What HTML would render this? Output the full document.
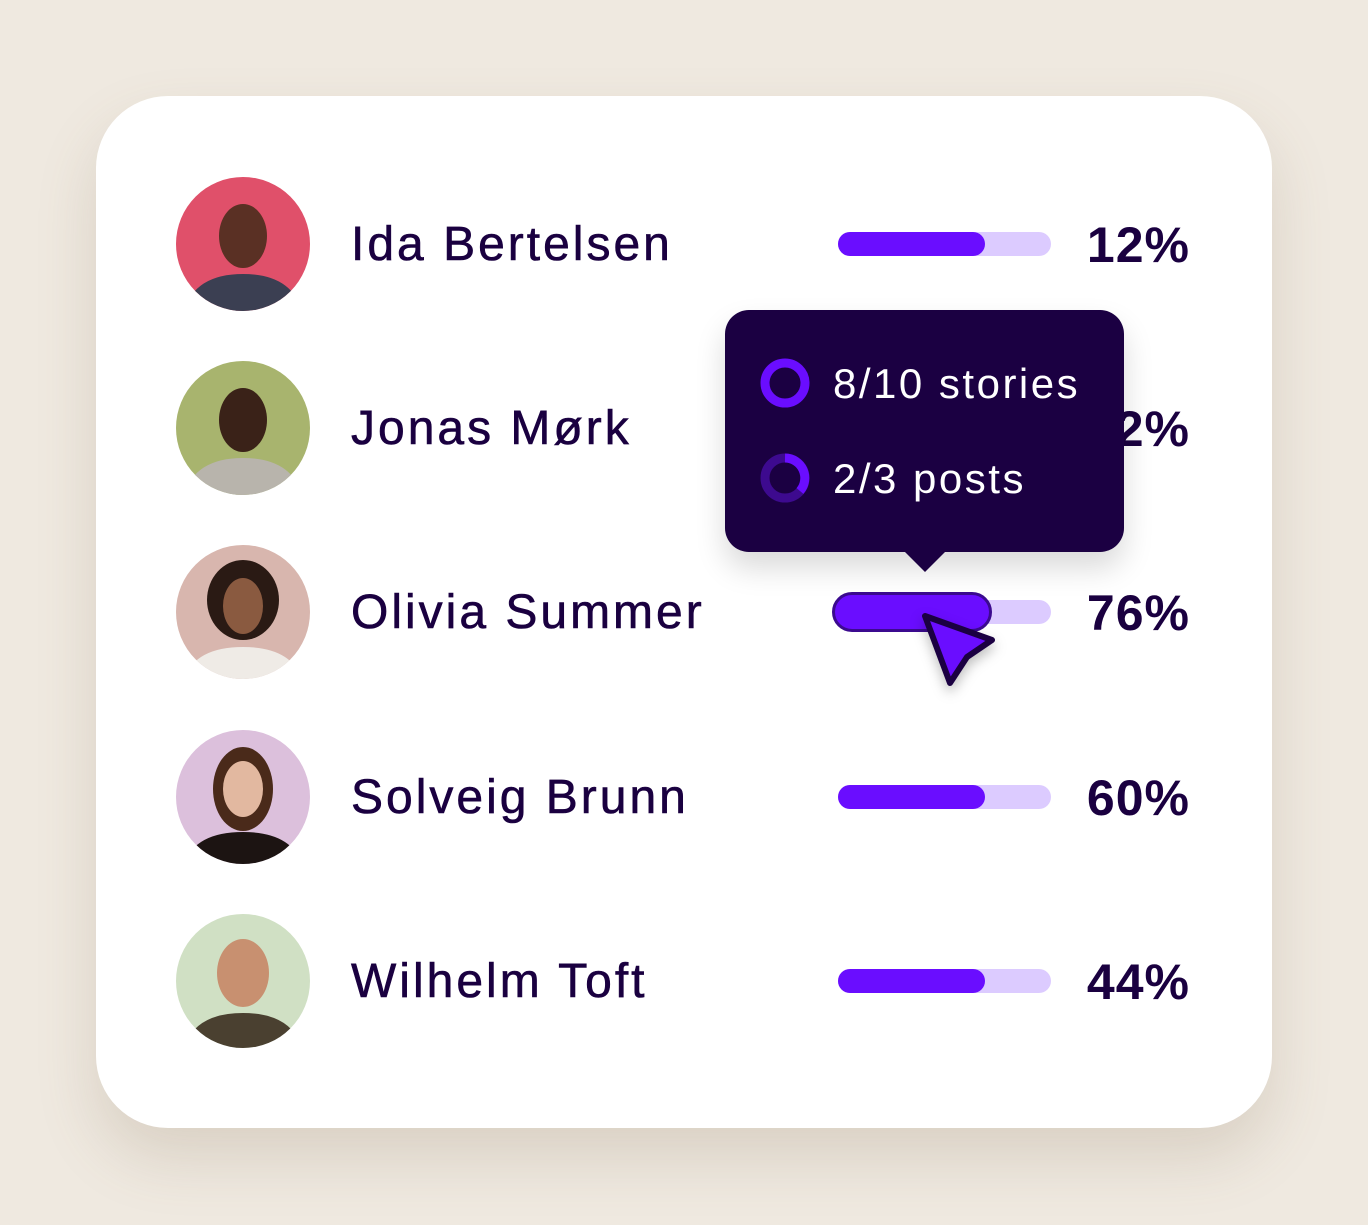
<!DOCTYPE html>
<html><head><meta charset="utf-8"><style>
body{margin:0;width:1368px;height:1225px;background:#efe9e0;position:relative;overflow:hidden;font-family:"Liberation Sans",sans-serif;}
.card{position:absolute;left:96px;top:96px;width:1176px;height:1032px;background:#fff;border-radius:72px;box-shadow:0 30px 60px rgba(120,100,70,0.18);}
.name{position:absolute;left:351px;font-size:48px;color:#1a0040;line-height:1;letter-spacing:3px;-webkit-text-stroke:0.6px #1a0040;}
.pct{position:absolute;right:178px;font-size:50px;font-weight:bold;color:#1a0040;line-height:1;letter-spacing:1px;}
.track{position:absolute;left:838px;width:213px;height:24px;border-radius:12px;background:#dccbff;}
.fill{position:absolute;left:838px;width:147px;height:24px;border-radius:12px;background:#6a0dff;}
</style></head><body>
<div class="card"></div>
<svg width="1368" height="1225" style="position:absolute;left:0;top:0">
<defs><clipPath id="c"><circle r="67" cx="0" cy="0"/></clipPath></defs>
<g transform="translate(243,244)" clip-path="url(#c)"><rect x="-70" y="-70" width="140" height="140" fill="#e0506a"/><ellipse cx="0" cy="-8" rx="24" ry="32" fill="#5a3024"/><path d="M-60 70 Q-50 30 0 30 Q50 30 60 70Z" fill="#3b3f52"/></g>
<g transform="translate(243,428)" clip-path="url(#c)"><rect x="-70" y="-70" width="140" height="140" fill="#a8b46e"/><ellipse cx="0" cy="-8" rx="24" ry="32" fill="#3a2218"/><path d="M-60 70 Q-50 30 0 30 Q50 30 60 70Z" fill="#b8b4ac"/></g>
<g transform="translate(243,612)" clip-path="url(#c)"><rect x="-70" y="-70" width="140" height="140" fill="#d8b6ae"/><ellipse cx="0" cy="-12" rx="36" ry="40" fill="#2a1a14"/><ellipse cx="0" cy="-6" rx="20" ry="28" fill="#8a5a40"/><path d="M-60 70 Q-50 35 0 35 Q50 35 60 70Z" fill="#efebe6"/></g>
<g transform="translate(243,797)" clip-path="url(#c)"><rect x="-70" y="-70" width="140" height="140" fill="#dcc0dc"/><ellipse cx="0" cy="-8" rx="30" ry="42" fill="#4a2a1a"/><ellipse cx="0" cy="-8" rx="20" ry="28" fill="#e2b8a0"/><path d="M-60 70 Q-50 35 0 35 Q50 35 60 70Z" fill="#1c1412"/></g>
<g transform="translate(243,981)" clip-path="url(#c)"><rect x="-70" y="-70" width="140" height="140" fill="#d0e0c4"/><ellipse cx="0" cy="-8" rx="26" ry="34" fill="#c89070"/><path d="M-60 70 Q-50 32 0 32 Q50 32 60 70Z" fill="#4a4030"/></g>
</svg>
<div class="name" style="top:221px">Ida Bertelsen</div>
<div class="name" style="top:405px">Jonas Mørk</div>
<div class="name" style="top:589px">Olivia Summer</div>
<div class="name" style="top:774px">Solveig Brunn</div>
<div class="name" style="top:958px">Wilhelm Toft</div>
<div class="pct" style="top:220px">12%</div>
<div class="pct" style="top:404px">12%</div>
<div class="pct" style="top:588px">76%</div>
<div class="pct" style="top:773px">60%</div>
<div class="pct" style="top:957px">44%</div>
<div class="track" style="top:232px"></div><div class="fill" style="top:232px"></div>
<div class="track" style="top:600px"></div>
<div class="track" style="top:785px"></div><div class="fill" style="top:785px"></div>
<div class="track" style="top:969px"></div><div class="fill" style="top:969px"></div>
<div style="position:absolute;left:832px;top:592px;width:154px;height:34px;border-radius:20px;background:#6a0dff;border:3px solid #3b0a8f;"></div>
<div style="position:absolute;left:725px;top:310px;width:399px;height:242px;border-radius:24px;background:#1b0042;box-shadow:0 16px 30px rgba(0,0,0,0.15)"></div>
<svg width="1368" height="1225" style="position:absolute;left:0;top:0">
<polygon points="904,551 946,551 925,572" fill="#1b0042"/>
<circle cx="785" cy="383" r="20" fill="none" stroke="#6a0dff" stroke-width="9"/>
<circle cx="785" cy="478" r="20" fill="none" stroke="#3d0a8f" stroke-width="9"/>
<path d="M785 458 A20 20 0 0 1 800 491" fill="none" stroke="#6a0dff" stroke-width="9"/>
<polygon points="925,616 992,640 967,657 950,683" fill="#6a0dff" stroke="#1b0042" stroke-width="6" stroke-linejoin="round" style="filter:drop-shadow(0 6px 6px rgba(0,0,0,0.25))"/>
<text x="833" y="398" font-family="Liberation Sans" font-size="42" fill="#fff" letter-spacing="2.5">8/10 stories</text>
<text x="833" y="493" font-family="Liberation Sans" font-size="42" fill="#fff" letter-spacing="2.5">2/3 posts</text>
</svg>
</body></html>
